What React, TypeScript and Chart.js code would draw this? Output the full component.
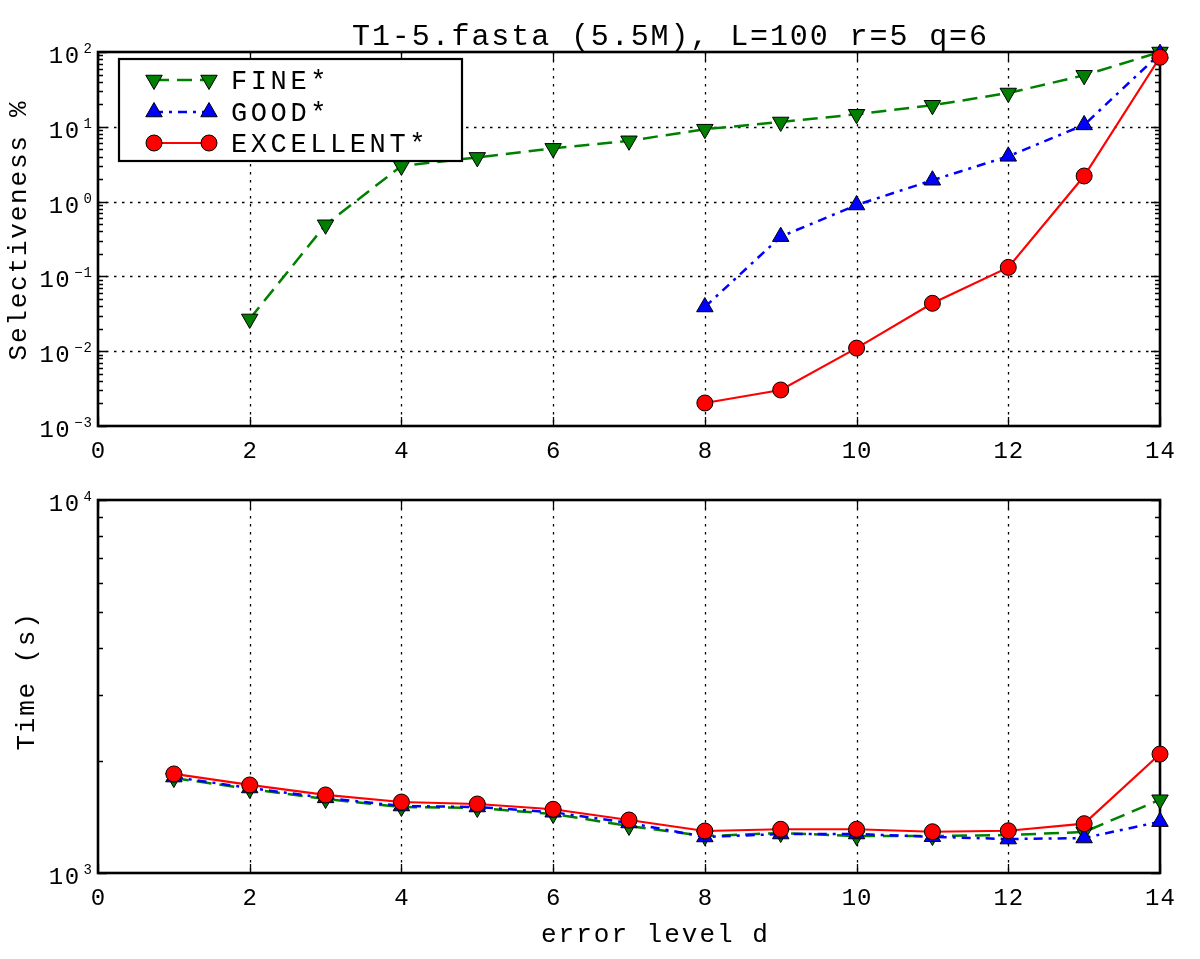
import React, { useEffect, useRef } from "react";
import { Chart, registerables } from "chart.js";
Chart.register(...registerables);

// ---------- data ----------
const titleText = "T1-5.fasta (5.5M), L=100 r=5 q=6";
const seriesLabels = ["FINE*", "GOOD*", "EXCELLENT*"];
const xTickValues = [0, 2, 4, 6, 8, 10, 12, 14];

// top panel: selectiveness %
const selFineLevels = [2, 3, 4, 5, 6, 7, 8, 9, 10, 11, 12, 13, 14];
const selFine = [0.027, 0.49, 3.0, 3.9, 5.15, 6.5, 9.3, 11.6, 14.7, 19.4, 28.3, 48.8, 100];
const selGoodLevels = [8, 9, 10, 11, 12, 13, 14];
const selGood = [0.039, 0.34, 0.9, 1.93, 4.03, 10.6, 95];
const selExcLevels = [8, 9, 10, 11, 12, 13, 14];
const selExc = [0.00203, 0.00303, 0.011, 0.0437, 0.132, 2.2, 85];
const selExponents = [2, 1, 0, -1, -2, -3];

// bottom panel: time (s)
const timeLevels = [1, 2, 3, 4, 5, 6, 7, 8, 9, 10, 11, 12, 13, 14];
const timeFine = [1797, 1680, 1579, 1503, 1494, 1439, 1337, 1256, 1280, 1256, 1256, 1264, 1288, 1572];
const timeGood = [1808, 1690, 1590, 1512, 1503, 1455, 1362, 1249, 1272, 1272, 1251, 1233, 1241, 1373];
const timeExc = [1843, 1722, 1619, 1550, 1531, 1482, 1387, 1296, 1310, 1310, 1290, 1298, 1356, 2084];
const timeExponents = [4, 3];

const GREEN = "#008000";
const BLUE = "#0000ff";
const RED = "#ff0000";
const FONT = "'Liberation Mono', 'DejaVu Sans Mono', monospace";

const pts = (xs: number[], ys: number[]) => xs.map((x, i) => ({ x, y: ys[i] }));

function setSpacing(ctx: any, s: number) {
  try {
    ctx.letterSpacing = s + "px";
  } catch (e) {}
}

function makeDatasets(fx: number[], fy: number[], gx: number[], gy: number[], ex: number[], ey: number[]) {
  return [
    {
      label: seriesLabels[0],
      data: pts(fx, fy),
      borderColor: GREEN,
      backgroundColor: GREEN,
      borderWidth: 2.5,
      borderDash: [15, 8],
      pointStyle: "triangle",
      pointRotation: 180,
      pointRadius: 9.5,
      pointBackgroundColor: GREEN,
      pointBorderColor: "#000",
      pointBorderWidth: 1,
      tension: 0,
      fill: false,
      clip: false,
      order: 2,
    },
    {
      label: seriesLabels[1],
      data: pts(gx, gy),
      borderColor: BLUE,
      backgroundColor: BLUE,
      borderWidth: 2.5,
      borderDash: [9, 6, 3, 6],
      pointStyle: "triangle",
      pointRotation: 0,
      pointRadius: 9.5,
      pointBackgroundColor: BLUE,
      pointBorderColor: "#000",
      pointBorderWidth: 1,
      tension: 0,
      fill: false,
      clip: false,
      order: 1,
    },
    {
      label: seriesLabels[2],
      data: pts(ex, ey),
      borderColor: RED,
      backgroundColor: RED,
      borderWidth: 2.2,
      pointStyle: "circle",
      pointRadius: 8,
      pointBackgroundColor: RED,
      pointBorderColor: "#000",
      pointBorderWidth: 1,
      tension: 0,
      fill: false,
      clip: false,
      order: 0,
    },
  ];
}

function drawMarker(ctx: any, kind: string, x: number, y: number, color: string) {
  ctx.save();
  ctx.fillStyle = color;
  ctx.strokeStyle = "#000";
  ctx.lineWidth = 1;
  ctx.setLineDash([]);
  ctx.beginPath();
  const r = 9.5;
  if (kind === "down") {
    ctx.moveTo(x, y + r);
    ctx.lineTo(x - 0.866 * r, y - 0.5 * r);
    ctx.lineTo(x + 0.866 * r, y - 0.5 * r);
    ctx.closePath();
  } else if (kind === "up") {
    ctx.moveTo(x, y - r);
    ctx.lineTo(x - 0.866 * r, y + 0.5 * r);
    ctx.lineTo(x + 0.866 * r, y + 0.5 * r);
    ctx.closePath();
  } else {
    ctx.arc(x, y, 8, 0, Math.PI * 2);
  }
  ctx.fill();
  ctx.stroke();
  ctx.restore();
}

type PanelCfg = {
  exps: number[];
  yGrid: number[];
  yMinorDecades: number[];
  drawTitle?: boolean;
  drawLegend?: boolean;
  yTitle: string;
  yTitleX: number;
  yTitleY: number;
  xTitle?: string;
  xTitleX?: number;
  xTitleY?: number;
};

function makePlugin(cfg: PanelCfg) {
  return {
    id: "mplStyle",
    beforeDatasetsDraw(chart: any) {
      const { ctx, chartArea: a, scales } = chart;
      const xs = scales.x;
      const ys = scales.y;
      ctx.save();
      // dotted grid
      ctx.strokeStyle = "#000";
      ctx.lineWidth = 1.3;
      ctx.setLineDash([2.5, 5.5]);
      xTickValues.forEach((v) => {
        if (v === xs.min || v === xs.max) return;
        const px = Math.round(xs.getPixelForValue(v)) + 0.5;
        ctx.beginPath();
        ctx.moveTo(px, a.top);
        ctx.lineTo(px, a.bottom);
        ctx.stroke();
      });
      cfg.yGrid.forEach((v) => {
        const py = Math.round(ys.getPixelForValue(v)) + 0.5;
        ctx.beginPath();
        ctx.moveTo(a.left, py);
        ctx.lineTo(a.right, py);
        ctx.stroke();
      });
      ctx.setLineDash([]);
      // ticks
      ctx.lineWidth = 1.3;
      xTickValues.forEach((v) => {
        const px = Math.round(xs.getPixelForValue(v)) + 0.5;
        ctx.beginPath();
        ctx.moveTo(px, a.top);
        ctx.lineTo(px, a.top + 9);
        ctx.moveTo(px, a.bottom);
        ctx.lineTo(px, a.bottom - 9);
        ctx.stroke();
      });
      cfg.exps.forEach((e) => {
        const py = Math.round(ys.getPixelForValue(Math.pow(10, e))) + 0.5;
        ctx.beginPath();
        ctx.moveTo(a.left, py);
        ctx.lineTo(a.left + 9, py);
        ctx.moveTo(a.right, py);
        ctx.lineTo(a.right - 9, py);
        ctx.stroke();
      });
      cfg.yMinorDecades.forEach((d) => {
        for (let m = 2; m <= 9; m++) {
          const py = Math.round(ys.getPixelForValue(m * d)) + 0.5;
          ctx.beginPath();
          ctx.moveTo(a.left, py);
          ctx.lineTo(a.left + 5, py);
          ctx.moveTo(a.right, py);
          ctx.lineTo(a.right - 5, py);
          ctx.stroke();
        }
      });
      // frame
      ctx.lineWidth = 2.6;
      ctx.strokeRect(a.left, a.top, a.right - a.left, a.bottom - a.top);
      ctx.restore();
    },
    afterDatasetsDraw(chart: any) {
      const { ctx, chartArea: a, scales } = chart;
      const xs = scales.x;
      const ys = scales.y;
      ctx.save();
      ctx.fillStyle = "#000";
      // x tick labels
      ctx.font = "24px " + FONT;
      setSpacing(ctx, 1);
      ctx.textAlign = "center";
      ctx.textBaseline = "alphabetic";
      xTickValues.forEach((v) => {
        ctx.fillText(String(v), xs.getPixelForValue(v) + 0.5, a.bottom + 32);
      });
      // y tick labels 10^e
      cfg.exps.forEach((e) => {
        const py = ys.getPixelForValue(Math.pow(10, e));
        const sup = e < 0 ? "\u2212" + String(-e) : String(e);
        ctx.font = "14px " + FONT;
        setSpacing(ctx, 1);
        const supW = ctx.measureText(sup).width;
        const right = 93;
        ctx.textAlign = "left";
        ctx.fillText(sup, right - supW, py + 1);
        ctx.font = "24px " + FONT;
        setSpacing(ctx, 1.5);
        ctx.textAlign = "right";
        ctx.fillText("10", right - supW - 3, py + 11);
      });
      // y title
      ctx.save();
      ctx.font = "26px " + FONT;
      setSpacing(ctx, 1.8);
      ctx.translate(cfg.yTitleX, cfg.yTitleY);
      ctx.rotate(-Math.PI / 2);
      ctx.textAlign = "center";
      ctx.textBaseline = "middle";
      ctx.fillText(cfg.yTitle, 0, 0);
      ctx.restore();
      // x title
      if (cfg.xTitle) {
        ctx.font = "26px " + FONT;
        setSpacing(ctx, 2);
        ctx.textAlign = "left";
        ctx.textBaseline = "alphabetic";
        ctx.fillText(cfg.xTitle, cfg.xTitleX, cfg.xTitleY);
      }
      // title
      if (cfg.drawTitle) {
        ctx.font = "30px " + FONT;
        setSpacing(ctx, 1.9);
        ctx.textAlign = "left";
        ctx.textBaseline = "alphabetic";
        ctx.fillText(titleText, 352, 45);
      }
      // legend
      if (cfg.drawLegend) {
        setSpacing(ctx, 0);
        ctx.fillStyle = "#fff";
        ctx.fillRect(119, 59, 343, 102);
        ctx.strokeStyle = "#000";
        ctx.lineWidth = 2.2;
        ctx.strokeRect(119, 59, 343, 102);
        const rows = [
          { y: 80, color: GREEN, dash: [15, 8], kind: "down", lw: 2.5 },
          { y: 112, color: BLUE, dash: [9, 6, 3, 6], kind: "up", lw: 2.5 },
          { y: 143, color: RED, dash: [], kind: "circle", lw: 2.2 },
        ];
        rows.forEach((r, i) => {
          ctx.save();
          ctx.strokeStyle = r.color;
          ctx.lineWidth = r.lw;
          ctx.setLineDash(r.dash);
          ctx.beginPath();
          ctx.moveTo(154, r.y);
          ctx.lineTo(209, r.y);
          ctx.stroke();
          ctx.restore();
          drawMarker(ctx, r.kind, 154, r.y, r.color);
          drawMarker(ctx, r.kind, 209, r.y, r.color);
          ctx.fillStyle = "#000";
          ctx.font = "27px " + FONT;
          setSpacing(ctx, 3.6);
          ctx.textAlign = "left";
          ctx.textBaseline = "alphabetic";
          ctx.fillText(seriesLabels[i], 231, r.y + 9);
        });
      }
      ctx.restore();
    },
  };
}

function baseOptions(pad: any, yMin: number, yMax: number) {
  return {
    animation: false,
    responsive: false,
    maintainAspectRatio: false,
    events: [],
    layout: { padding: pad, autoPadding: false },
    plugins: { legend: { display: false }, tooltip: { enabled: false }, title: { display: false } },
    scales: {
      x: {
        type: "linear",
        min: 0,
        max: 14,
        grid: { display: false, drawTicks: false, tickLength: 0 },
        border: { display: false },
        ticks: { display: false },
        title: { display: false },
      },
      y: {
        type: "logarithmic",
        min: yMin,
        max: yMax,
        grid: { display: false, drawTicks: false, tickLength: 0 },
        border: { display: false },
        ticks: { display: false },
        title: { display: false },
      },
    },
  };
}

export default function App() {
  const topRef = useRef<HTMLCanvasElement>(null);
  const botRef = useRef<HTMLCanvasElement>(null);

  useEffect(() => {
    const top = new Chart(topRef.current as HTMLCanvasElement, {
      type: "line",
      data: {
        datasets: makeDatasets(selFineLevels, selFine, selGoodLevels, selGood, selExcLevels, selExc) as any,
      },
      options: baseOptions({ left: 98, right: 40, top: 52, bottom: 44 }, 1e-3, 1e2) as any,
      plugins: [
        makePlugin({
          exps: selExponents,
          yGrid: [1e-2, 1e-1, 1, 10],
          yMinorDecades: [1e-3, 1e-2, 1e-1, 1, 10],
          drawTitle: true,
          drawLegend: true,
          yTitle: "Selectiveness %",
          yTitleX: 19,
          yTitleY: 230,
        }) as any,
      ],
    });
    const bot = new Chart(botRef.current as HTMLCanvasElement, {
      type: "line",
      data: {
        datasets: makeDatasets(timeLevels, timeFine, timeLevels, timeGood, timeLevels, timeExc) as any,
      },
      options: baseOptions({ left: 98, right: 40, top: 30, bottom: 86 }, 1e3, 1e4) as any,
      plugins: [
        makePlugin({
          exps: timeExponents,
          yGrid: [],
          yMinorDecades: [1e3],
          yTitle: "Time (s)",
          yTitleX: 27,
          yTitleY: 211,
          xTitle: "error level d",
          xTitleX: 541,
          xTitleY: 472,
        }) as any,
      ],
    });
    return () => {
      top.destroy();
      bot.destroy();
    };
  }, []);

  return (
    <div style={{ position: "absolute", left: 0, top: 0, width: 1200, height: 959, background: "#fff" }}>
      <canvas ref={topRef} width={1200} height={470} style={{ position: "absolute", left: 0, top: 0, width: 1200, height: 470 }} />
      <canvas ref={botRef} width={1200} height={489} style={{ position: "absolute", left: 0, top: 470, width: 1200, height: 489 }} />
    </div>
  );
}
